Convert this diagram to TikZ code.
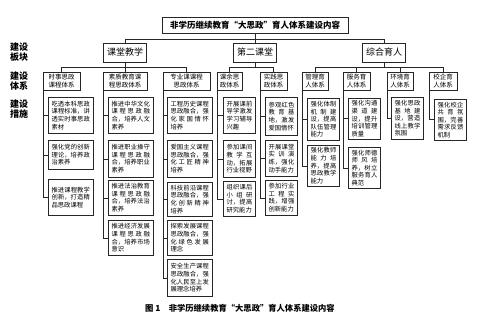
\documentclass[tikz,border=0pt]{standalone}
\usepackage{fontspec}
\setmainfont{Noto Sans CJK SC}
\usetikzlibrary{positioning}
\XeTeXlinebreaklocale "zh"
\XeTeXlinebreakskip=0pt plus 5pt

\tikzset{
  conn/.style={draw=black!85, line width=0.6pt},
  titlebox/.style={draw=black!85, line width=0.8pt, font=\fontsize{8.5}{10}\selectfont\bfseries,
    minimum width=186pt, minimum height=16pt, inner sep=1pt},
  blockbox/.style={draw=black!85, line width=0.8pt, font=\fontsize{9}{10}\selectfont,
    minimum width=43pt, minimum height=19pt, inner sep=1pt},
  sysbox/.style={draw=black!85, line width=0.6pt, font=\fontsize{6.5}{7.6}\selectfont,
    align=center, minimum height=18pt, inner sep=1.5pt},
  measbox/.style={draw=black!85, line width=0.6pt, anchor=north west, align=justify,
    font=\fontsize{6.3}{7.6}\selectfont, text width=#1, inner xsep=3.3pt, inner ysep=2pt},
  measbox/.default=38.3pt,
  sidelab/.style={font=\fontsize{9}{10.5}\selectfont\bfseries, align=center}
}
\newcommand{\nl}{\linebreak}

\begin{document}
\begin{tikzpicture}[x=1pt,y=-1pt]
  \useasboundingbox (0,0) rectangle (495,326);

  % title and side labels
  \node[titlebox] (title) at (255,25) {非学历继续教育“大思政”育人体系建设内容};
  \node[sidelab] (lab1) at (19,52) {建设\\板块};
  \node[sidelab] (lab2) at (19,81) {建设\\体系};
  \node[sidelab] (lab3) at (19,109) {建设\\措施};

  % blocks
  \node[blockbox] (ktjx) at (125,52.5) {课堂教学};
  \node[blockbox] (dekt) at (255,52.5) {第二课堂};
  \node[blockbox] (zhyr) at (384,52.5) {综合育人};

  % systems
  \node[sysbox, minimum width=37pt] (sszz) at (61.5,81) {时事思政\\课程体系};
  \node[sysbox, minimum width=44pt] (szjy) at (125,81) {素质教育课\\程思政体系};
  \node[sysbox, minimum width=47pt] (zykc) at (186.5,81) {专业课课程\\思政体系};
  \node[sysbox, minimum width=25pt] (kysz) at (229.5,81) {课余思\\政体系};
  \node[sysbox, minimum width=27pt] (sjsz) at (273.5,81) {实践思\\政体系};
  \node[sysbox, minimum width=26pt] (glyr) at (315,81) {管理育\\人体系};
  \node[sysbox, minimum width=27pt] (fwyr) at (356.5,81) {服务育\\人体系};
  \node[sysbox, minimum width=26pt] (hjyr) at (400,81) {环境育\\人体系};
  \node[sysbox, minimum width=28pt] (xqyr) at (443,81) {校企育\\人体系};

  % measures
  \node[measbox, minimum height=36pt] (m11) at (48,97) {吃透本科思政\nl 课程标准，讲\nl 透实时事思政\nl 素材};
  \node[measbox, minimum height=29pt] (m12) at (48,140) {强化党的创新\nl 理论，培养政\nl 治素养};
  \node[measbox, minimum height=36pt] (m13) at (48,179) {推进课程教学\nl 创新，打造精\nl 品思政课程};

  \node[measbox, minimum height=36pt] (m21) at (108,97) {推进中华文化\nl 课程思政融\nl 合，培养人文\nl 素养};
  \node[measbox, minimum height=37pt] (m22) at (108,140) {推进职业操守\nl 课程思政融\nl 合，培养职业\nl 素养};
  \node[measbox, minimum height=35pt] (m23) at (108,180) {推进法治教育\nl 课程思政融\nl 合，培养法治\nl 素养};
  \node[measbox, minimum height=35pt] (m24) at (108,220) {推进经济发展\nl 课程思政融\nl 合，培养市场\nl 意识};

  \node[measbox, minimum height=36pt] (m31) at (167,97) {工程历史课程\nl 思政融合，强\nl 化家国情怀\nl 培养};
  \node[measbox, minimum height=37pt] (m32) at (167,140) {爱国主义课程\nl 思政融合，强\nl 化工匠精神\nl 培养};
  \node[measbox, minimum height=34pt] (m33) at (167,182) {科技前沿课程\nl 思政融合，强\nl 化创新精神\nl 培养};
  \node[measbox, minimum height=35pt] (m34) at (167,220) {探索发展课程\nl 思政融合，强\nl 化绿色发展\nl 理念};
  \node[measbox, minimum height=37pt] (m35) at (167,259) {安全生产课程\nl 思政融合，强\nl 化人民至上发\nl 展理念培养};

  \node[measbox=25.7pt, minimum height=36pt] (m41) at (223,97) {开展课前\nl 导学激发\nl 学习辅导\nl 兴趣};
  \node[measbox=25.7pt, minimum height=37pt] (m42) at (223,140) {参加课间\nl 教学互\nl 动，拓展\nl 行业视野};
  \node[measbox=25.7pt, minimum height=35pt] (m43) at (223,181) {组织课后\nl 小组研\nl 讨，提高\nl 研究能力};

  \node[measbox=25.7pt, minimum height=38pt] (m51) at (265,97) {参观红色\nl 教育基\nl 地，激发\nl 爱国情怀};
  \node[measbox=25.7pt, minimum height=36pt] (m52) at (265,140) {开展课堂\nl 实训演\nl 练，强化\nl 动手能力};
  \node[measbox=25.7pt, minimum height=35pt] (m53) at (265,180) {参加行业\nl 工程实\nl 践，增强\nl 创新能力};

  \node[measbox=25.7pt, minimum height=42pt] (m61) at (307,98) {强化体制\nl 机制建\nl 设，提高\nl 队伍管理\nl 能力};
  \node[measbox=25.7pt, minimum height=41pt] (m62) at (307,145) {强化教师\nl 能力培\nl 养，提高\nl 思政教学\nl 能力};

  \node[measbox=25.7pt, minimum height=41pt] (m71) at (348,98) {强化沟通\nl 渠道建\nl 设，提升\nl 培训管理\nl 质量};
  \node[measbox=25.7pt, minimum height=41pt] (m72) at (348,147) {强化师德\nl 师风培\nl 养，树立\nl 服务育人\nl 典范};

  \node[measbox=25.7pt, minimum height=42pt] (m81) at (391,97) {强化思政\nl 基地建\nl 设，营造\nl 线上教学\nl 氛围};
  \node[measbox=25.7pt, minimum height=41pt] (m91) at (434,99) {强化校企\nl 共育氛\nl 围，完善\nl 需求反馈\nl 机制};

  % caption
  \node[font=\fontsize{8.3}{9}\selectfont\bfseries] (cap) at (240,308)
    {图 1\quad 非学历继续教育“大思政”育人体系建设内容};

  % tree lines
  \draw[conn] (title.south) -- ++(0,6) coordinate (j0);
  \draw[conn] (j0) -| (ktjx.north);
  \draw[conn] (j0) -| (dekt.north);
  \draw[conn] (j0) -| (zhyr.north);

  \draw[conn] (ktjx.south) -- ++(0,5) coordinate (j1);
  \draw[conn] (j1) -| (sszz.north);
  \draw[conn] (j1) -| (szjy.north);
  \draw[conn] (j1) -| (zykc.north);
  \draw[conn] (dekt.south) -- ++(0,5) coordinate (j2);
  \draw[conn] (j2) -| (kysz.north);
  \draw[conn] (j2) -| (sjsz.north);
  \draw[conn] (zhyr.south) -- ++(0,5) coordinate (j3);
  \draw[conn] (j3) -| (glyr.north);
  \draw[conn] (j3) -| (fwyr.north);
  \draw[conn] (j3) -| (hjyr.north);
  \draw[conn] (j3) -| (xqyr.north);

  \foreach \m in {m11,m12,m13}
    \draw[conn] ([xshift=1pt]sszz.south west) |- (\m.west);
  \foreach \m in {m21,m22,m23,m24}
    \draw[conn] ([xshift=1pt]szjy.south west) |- (\m.west);
  \foreach \m in {m31,m32,m33,m34,m35}
    \draw[conn] ([xshift=1pt]zykc.south west) |- (\m.west);
  \foreach \m in {m41,m42,m43}
    \draw[conn] ([xshift=1pt]kysz.south west) |- (\m.west);
  \foreach \m in {m51,m52,m53}
    \draw[conn] ([xshift=1pt]sjsz.south west) |- (\m.west);
  \foreach \m in {m61,m62}
    \draw[conn] ([xshift=1pt]glyr.south west) |- (\m.west);
  \foreach \m in {m71,m72}
    \draw[conn] ([xshift=1pt]fwyr.south west) |- (\m.west);
  \draw[conn] ([xshift=1pt]hjyr.south west) |- (m81.west);
  \draw[conn] ([xshift=1pt]xqyr.south west) |- (m91.west);
\end{tikzpicture}
\end{document}
